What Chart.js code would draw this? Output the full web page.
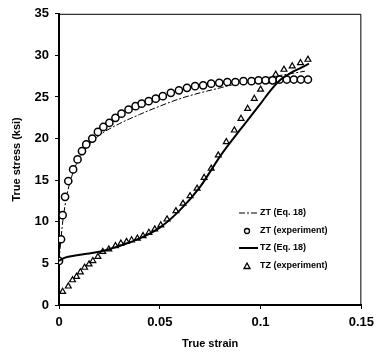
<!DOCTYPE html>
<html><head><meta charset="utf-8">
<script src="https://cdn.jsdelivr.net/npm/chart.js@4"></script>
<style>html,body{margin:0;padding:0;background:#fff}#wrap{width:380px;height:355px}</style>
</head><body><div id="wrap"><canvas id="c" width="380" height="355"></canvas></div>
<script>
const seriesLabels = ['ZT (Eq. 18)', 'ZT (experiment)', 'TZ (Eq. 18)', 'TZ (experiment)'];
const xTicks = [0, 0.05, 0.1, 0.15];
const yTicks = [0, 5, 10, 15, 20, 25, 30, 35];

const ztEqStrain = [0, 0.001, 0.002, 0.004, 0.006, 0.008, 0.01, 0.015, 0.02, 0.03, 0.04, 0.05, 0.06, 0.07, 0.08, 0.09, 0.1, 0.11, 0.122];
const ztEqStress = [5.3, 8.0, 10.3, 13.3, 15.2, 16.6, 17.6, 19.3, 20.4, 21.8, 22.9, 23.9, 24.8, 25.5, 26.1, 26.7, 27.2, 27.6, 28.1];

const ztExpStrain = [0, 0.001, 0.0018, 0.003, 0.0046, 0.007, 0.0092, 0.0114, 0.0135, 0.0165, 0.0193, 0.022, 0.025, 0.028, 0.031, 0.0345, 0.038, 0.041, 0.0445, 0.048, 0.0515, 0.0555, 0.0595, 0.0635, 0.0675, 0.0715, 0.0755, 0.0795, 0.0835, 0.0875, 0.0915, 0.0955, 0.099, 0.1025, 0.106, 0.1095, 0.113, 0.1165, 0.12, 0.1235];
const ztExpStress = [5.3, 7.9, 10.8, 13.0, 14.9, 16.3, 17.5, 18.5, 19.3, 20.0, 20.8, 21.4, 21.9, 22.5, 23.0, 23.5, 23.9, 24.2, 24.5, 24.8, 25.1, 25.5, 25.8, 26.1, 26.3, 26.4, 26.6, 26.7, 26.8, 26.8, 26.9, 26.9, 27.0, 27.0, 27.0, 27.1, 27.1, 27.1, 27.1, 27.1];

const tzEqStrain = [0, 0.003, 0.008, 0.015, 0.02, 0.03, 0.04, 0.05, 0.06, 0.07, 0.08, 0.09, 0.1, 0.105, 0.11, 0.115, 0.12, 0.124];
const tzEqStress = [5.3, 5.7, 5.95, 6.2, 6.4, 7.1, 8.0, 9.3, 11.4, 14.2, 17.9, 21.1, 24.2, 25.8, 27.1, 27.9, 28.5, 29.0];

const tzExpStrain = [0.0018, 0.0046, 0.0067, 0.0087, 0.0106, 0.0127, 0.0149, 0.0168, 0.0193, 0.0217, 0.0247, 0.028, 0.0307, 0.0335, 0.036, 0.0389, 0.0417, 0.0446, 0.0475, 0.0505, 0.0536, 0.058, 0.0615, 0.065, 0.0685, 0.072, 0.0755, 0.079, 0.083, 0.087, 0.0903, 0.0936, 0.0969, 0.1, 0.1034, 0.1075, 0.1116, 0.1157, 0.1198, 0.1235];
const tzExpStress = [1.6, 2.25, 3.0, 3.4, 3.95, 4.5, 4.9, 5.3, 5.8, 6.4, 6.7, 7.1, 7.4, 7.6, 7.8, 8.0, 8.3, 8.7, 9.1, 9.6, 10.3, 11.3, 12.2, 13.1, 14.0, 15.3, 16.4, 18.0, 19.6, 21.0, 22.4, 23.6, 24.8, 25.9, 26.9, 27.7, 28.3, 28.7, 29.1, 29.5];

const pts = (xs, ys) => xs.map((x, i) => ({x: x, y: ys[i]}));
const FONT = "'Liberation Sans', Arial, sans-serif";

const boxPlugin = {
  id: 'box',
  afterDraw(chart) {
    const ctx = chart.ctx, a = chart.chartArea;
    ctx.save();
    ctx.strokeStyle = '#000';
    ctx.lineWidth = 1;
    ctx.beginPath();
    ctx.moveTo(a.left, a.top + 0.5); ctx.lineTo(a.right - 0.5, a.top + 0.5); ctx.lineTo(a.right - 0.5, a.bottom);
    ctx.stroke();
    // legend
    const rows = [213, 231, 248, 266];
    const sx = 251, tx = 260;
    ctx.font = 'bold 9px ' + FONT;
    ctx.fillStyle = '#000';
    ctx.textBaseline = 'middle';
    chart.data.datasets.forEach((ds, i) => {
      const y = rows[i];
      ctx.save();
      if (ds.showLine) {
        ctx.strokeStyle = '#000';
        ctx.lineWidth = ds.borderWidth;
        ctx.setLineDash(ds.borderDash || []);
        ctx.beginPath(); ctx.moveTo(sx - 12, y); ctx.lineTo(sx + 7, y); ctx.stroke();
      } else {
        ctx.setLineDash([]);
        ctx.lineWidth = 1.3;
        ctx.strokeStyle = '#000';
        ctx.beginPath();
        if (ds.pointStyle === 'circle') {
          ctx.arc(sx - 4, y, 2.5, 0, Math.PI * 2);
        } else {
          ctx.moveTo(sx - 4, y - 3); ctx.lineTo(sx - 1, y + 2.5); ctx.lineTo(sx - 7, y + 2.5); ctx.closePath();
        }
        ctx.stroke();
      }
      ctx.restore();
      ctx.fillText(ds.label, tx, y);
    });
    ctx.restore();
  }
};

new Chart(document.getElementById('c'), {
  type: 'scatter',
  data: {
    datasets: [
      { label: seriesLabels[0], data: pts(ztEqStrain, ztEqStress), showLine: true, borderColor: '#000', borderWidth: 1, borderDash: [6, 2, 2, 2], pointRadius: 0, cubicInterpolationMode: 'monotone', order: 2 },
      { label: seriesLabels[1], data: pts(ztExpStrain, ztExpStress), showLine: false, pointStyle: 'circle', pointRadius: 3.6, borderWidth: 1.5, borderColor: '#000', backgroundColor: '#fff', order: 1 },
      { label: seriesLabels[2], data: pts(tzEqStrain, tzEqStress), showLine: true, borderColor: '#000', borderWidth: 2, pointRadius: 0, cubicInterpolationMode: 'monotone', order: 0 },
      { label: seriesLabels[3], data: pts(tzExpStrain, tzExpStress), showLine: false, pointStyle: 'triangle', pointRadius: 3.4, borderWidth: 1.2, borderColor: '#000', backgroundColor: '#fff', order: 1 }
    ]
  },
  options: {
    responsive: false,
    animation: false,
    layout: { padding: { left: 0, right: 15, top: 10, bottom: 0 } },
    plugins: { legend: { display: false }, tooltip: { enabled: false } },
    scales: {
      x: {
        type: 'linear', min: 0, max: 0.15,
        afterBuildTicks: s => { s.ticks = xTicks.map(v => ({value: v})); },
        afterFit: s => { s.height = 50; },
        grid: { drawOnChartArea: false, drawTicks: true, tickLength: 4, color: '#000', lineWidth: 1 },
        border: { display: true, color: '#000', width: 2 },
        ticks: { color: '#000', padding: 6, maxRotation: 0, font: { family: FONT, size: 13, weight: 'bold' }, callback: v => String(v) },
        title: { display: true, text: 'True strain', color: '#000', font: { family: FONT, size: 11, weight: 'bold' }, padding: { top: 5, bottom: 4 } }
      },
      y: {
        type: 'linear', min: 0, max: 35,
        afterBuildTicks: s => { s.ticks = yTicks.map(v => ({value: v})); },
        afterFit: s => { s.width = 59; },
        grid: { drawOnChartArea: false, drawTicks: true, tickLength: 4, color: '#000', lineWidth: 1 },
        border: { display: true, color: '#000', width: 2 },
        ticks: { color: '#000', padding: 6, font: { family: FONT, size: 13, weight: 'bold' } },
        title: { display: true, text: 'True stress (ksi)', color: '#000', font: { family: FONT, size: 11, weight: 'bold' }, padding: { top: 10, bottom: 4 } }
      }
    }
  },
  plugins: [boxPlugin]
});
</script></body></html>
